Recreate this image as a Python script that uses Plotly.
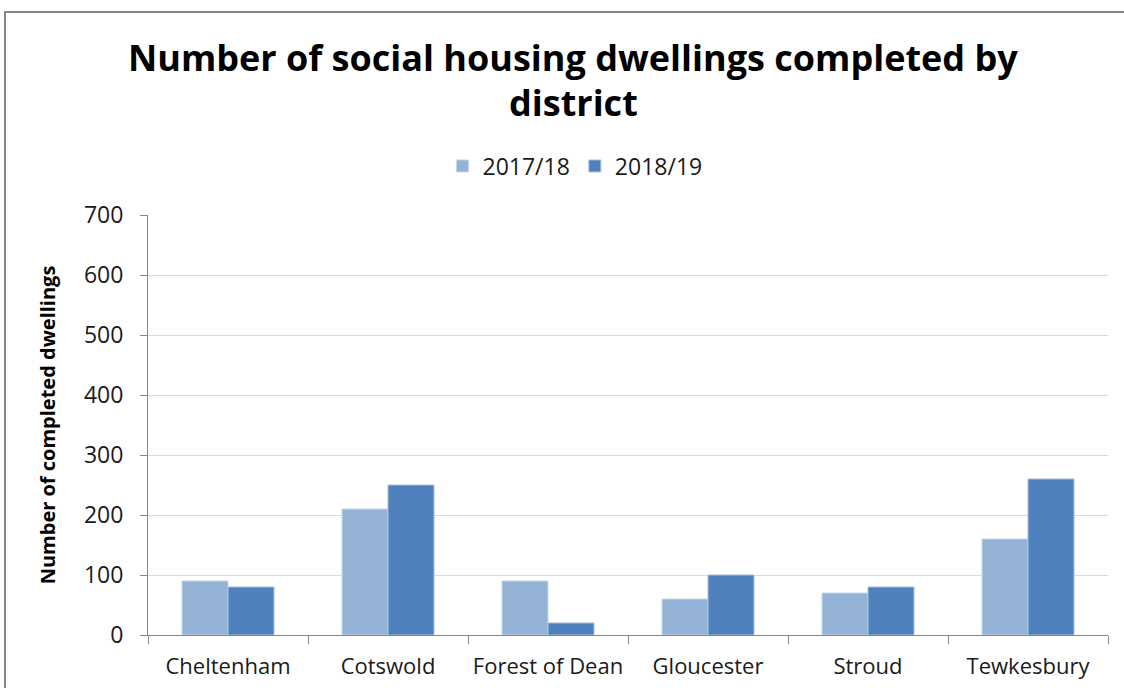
import plotly.graph_objects as go

districts = ["Cheltenham", "Cotswold", "Forest of Dean", "Gloucester", "Stroud", "Tewkesbury"]
completed_2017_18 = [90, 210, 90, 60, 70, 160]
completed_2018_19 = [80, 250, 20, 100, 80, 260]
y_ticks = [0, 100, 200, 300, 400, 500, 600, 700]
title_lines = ["Number of social housing dwellings completed by", "district"]

W, H = 1124, 688
left, right, top, bottom = 148, 16, 215, 53
plot_w = W - left - right
plot_h = H - top - bottom
FONT = "Open Sans, sans-serif"


def px_x(p):
    return (p - left) / plot_w


def px_y(p):
    return (H - bottom - p) / plot_h


fig = go.Figure()
fig.add_trace(go.Bar(
    name="2017/18", x=districts, y=completed_2017_18,
    marker=dict(color="#95b3d7", line=dict(color="#c7d7ea", width=1)),
))
fig.add_trace(go.Bar(
    name="2018/19", x=districts, y=completed_2018_19,
    marker=dict(color="#4f81bd", line=dict(color="#a9c0de", width=1)),
))

fig.update_layout(
    width=W, height=H,
    margin=dict(l=left, r=right, t=top, b=bottom, autoexpand=False),
    paper_bgcolor="white", plot_bgcolor="white",
    barmode="group", bargap=0.425, bargroupgap=0,
    font=dict(family=FONT, color="#000000"),
    legend=dict(
        orientation="h", x=px_x(575), xanchor="center",
        y=px_y(166), yanchor="middle",
        font=dict(size=23, family=FONT, color="#1a1a1a"),
        traceorder="normal", bgcolor="rgba(0,0,0,0)",
    ),
    showlegend=True,
)

# two-line chart title
for line, yc in zip(title_lines, [57, 102]):
    fig.add_annotation(
        text=line, xref="paper", yref="paper",
        x=px_x(573), y=px_y(yc), xanchor="center", yanchor="middle",
        showarrow=False,
        font=dict(size=36, family=FONT, weight="bold", color="#000000"),
    )

fig.update_yaxes(
    range=[0, 700], tickvals=y_ticks, ticktext=[str(v) for v in y_ticks],
    showgrid=True, gridcolor="#d9d9d9", gridwidth=1,
    showline=True, linecolor="#868686", linewidth=1,
    ticks="outside", ticklen=7, tickcolor="#868686",
    tickfont=dict(size=23, family=FONT, color="#1a1a1a"),
    ticklabelstandoff=12, automargin=False,
    zeroline=False,
    title=dict(text="Number of completed dwellings",
               font=dict(size=20, family=FONT, weight="bold", color="#000000"),
               standoff=22),
)
fig.update_xaxes(
    showline=True, linecolor="#868686", linewidth=1,
    ticks="outside", ticklen=8, tickcolor="#868686", tickson="boundaries",
    tickfont=dict(size=22, family=FONT, color="#1a1a1a"),
    ticklabelstandoff=12, automargin=False,
    showgrid=False,
)

# chart frame (open on the right and bottom edges of the page)
fig.add_shape(
    type="rect", xref="paper", yref="paper",
    x0=px_x(5), x1=px_x(1140), y0=px_y(710), y1=px_y(12),
    line=dict(color="#868686", width=2), fillcolor="rgba(0,0,0,0)", layer="below",
)

fig.write_html("out.html")
